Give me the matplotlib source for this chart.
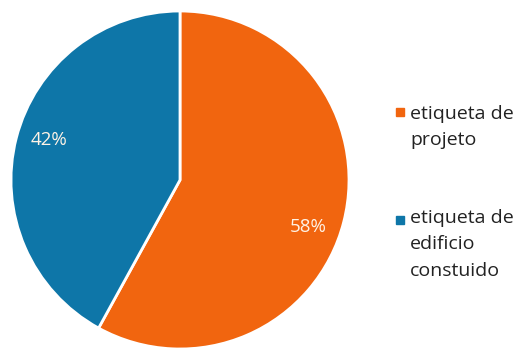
import numpy as np
import matplotlib.pyplot as plt
from matplotlib.patches import Rectangle

labels = ["etiqueta de\nprojeto", "etiqueta de\nedificio\nconstuido"]
values = [58, 42]
colors = ["#F1650F", "#0E76A8"]

fig = plt.figure(figsize=(5.28, 3.6), dpi=100)
# pie centre ~ (180, 180) px, radius ~169 px
r = 169 * 1.01
ax = fig.add_axes([(180 - r) / 528, (180 - r) / 360, 2 * r / 528, 2 * r / 360])

wedges, texts, autotexts = ax.pie(
    values, colors=colors, startangle=90, counterclock=False,
    autopct="%d%%", pctdistance=0.8,
    wedgeprops=dict(edgecolor="white", linewidth=2),
    textprops=dict(color="#FFF3E6", fontsize=13.5, family="Open Sans"),
)
ax.set_xlim(-1.01, 1.01)
ax.set_ylim(-1.01, 1.01)
ax.set_aspect("equal")
# labels sit a little clockwise of the wedge middles
for t, ang in zip(autotexts, [-20, 163]):
    a = np.deg2rad(ang)
    t.set_position((0.81 * np.cos(a), 0.81 * np.sin(a)))

# legend, text top-aligned with the marker on the first line
text_tops = [105, 209]
box_mids = [112, 220]
for lab, c, t, m in zip(labels, colors, text_tops, box_mids):
    fig.text(410 / 528, 1 - t / 360, lab, ha="left", va="top",
             fontsize=14, family="Open Sans", color="#222222", linespacing=1.6)
    fig.add_artist(Rectangle((396 / 528, 1 - (m + 4) / 360), 8 / 528, 8 / 360,
                             transform=fig.transFigure, color=c))

fig.savefig("out.png", dpi=100)
